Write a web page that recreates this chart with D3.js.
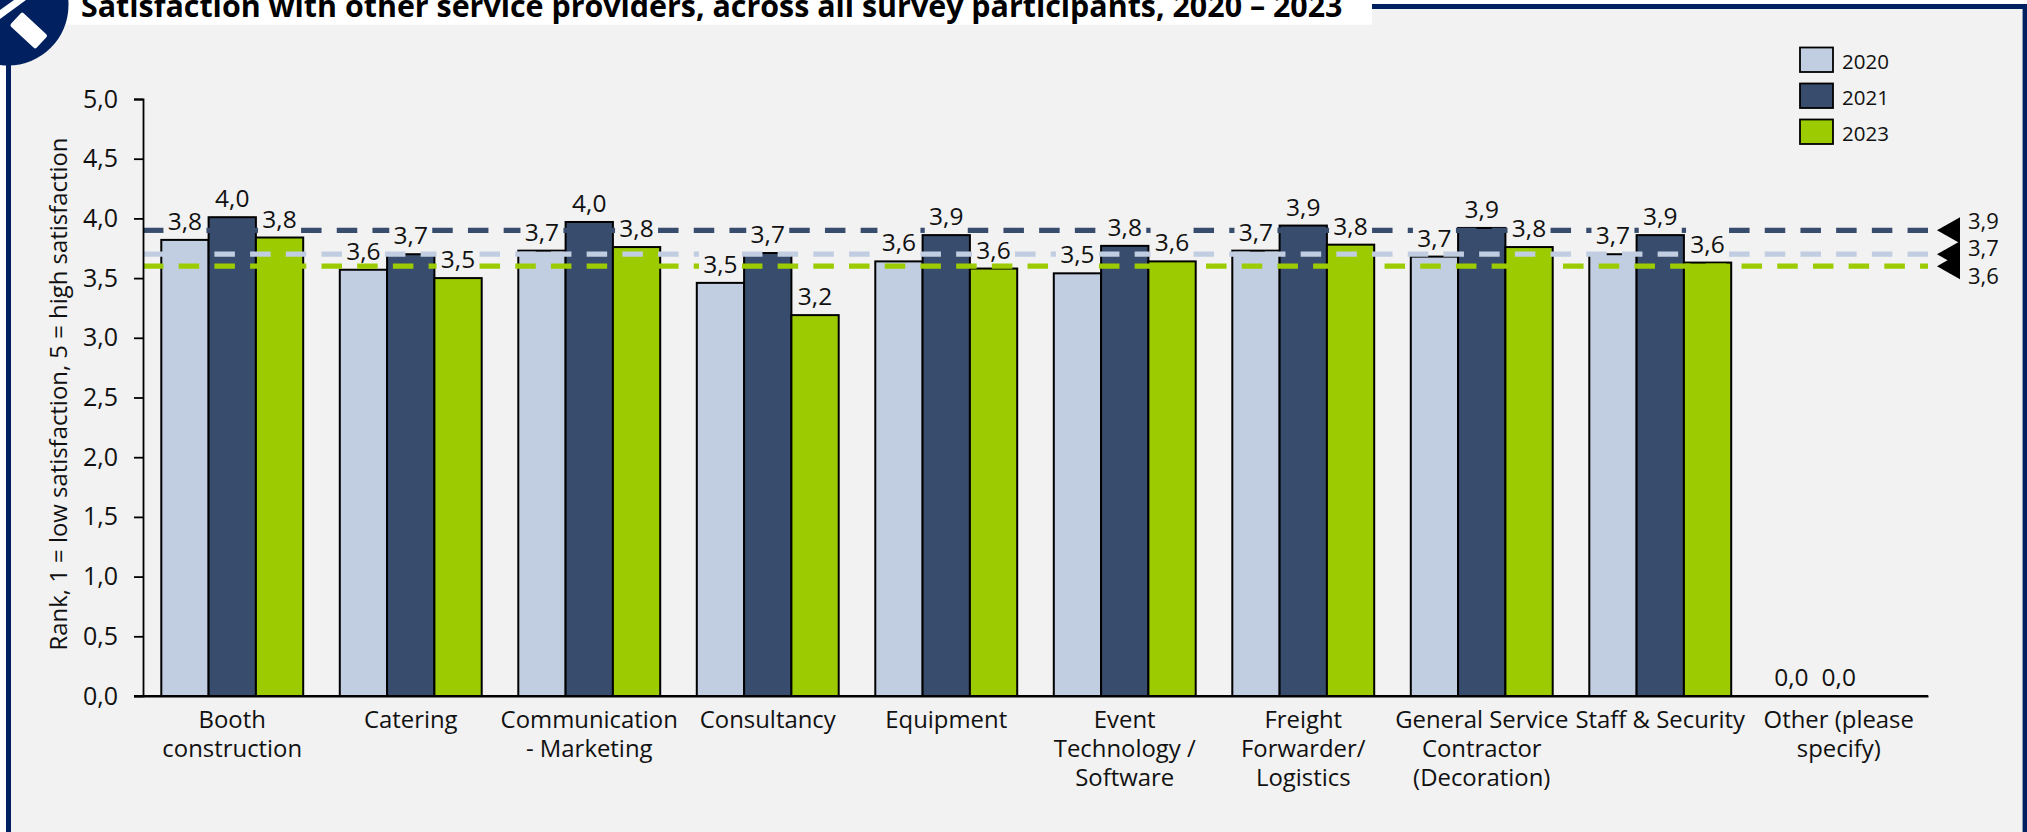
<!DOCTYPE html>
<html><head><meta charset="utf-8">
<script src="https://cdn.jsdelivr.net/npm/d3@7/dist/d3.min.js"></script>
<style>
html,body{margin:0;padding:0;background:#fff;overflow:hidden}
svg{display:block}
text{font-family:"Open Sans",sans-serif;fill:#111}
</style></head><body>
<svg id="c" width="2027" height="832"></svg>
<script>
const titleText = "Satisfaction with other service providers, across all survey participants, 2020 – 2023";
const yAxisTitle = "Rank, 1 = low satisfaction, 5 = high satisfaction";
const categories = ["Booth construction","Catering","Communication - Marketing","Consultancy","Equipment","Event Technology / Software","Freight Forwarder/ Logistics","General Service Contractor (Decoration)","Staff & Security","Other (please specify)"];
const categoryLines = [["Booth","construction"],["Catering"],["Communication","- Marketing"],["Consultancy"],["Equipment"],["Event","Technology /","Software"],["Freight","Forwarder/","Logistics"],["General Service","Contractor","(Decoration)"],["Staff & Security"],["Other (please","specify)"]];
const seriesNames = ["2020","2021","2023"];
const seriesColors = ["#c1cde0","#384d6e","#9bcb00"];
const values2020 = [3.82,3.57,3.73,3.46,3.64,3.54,3.73,3.68,3.70,0];
const values2021 = [4.01,3.70,3.97,3.71,3.86,3.77,3.94,3.92,3.86,0];
const values2023 = [3.84,3.50,3.76,3.19,3.58,3.64,3.78,3.76,3.63,null];
const averages = [3.7,3.9,3.6];
const averageLabelDy = [-6,-9.5,10];
const yTicks = [0,0.5,1,1.5,2,2.5,3,3.5,4,4.5,5];

const seriesValues = [values2020,values2021,values2023];
const fmt = v => v.toFixed(1).replace(".",",");
const svg = d3.select("#c");
const navy = "#00205f", bg = "#f2f2f2";
const plot = {l:143,r:1928,t:99,b:696};

// frame
svg.append("rect").attr("x",0).attr("y",0).attr("width",2027).attr("height",832).attr("fill","#fff");
svg.append("rect").attr("x",11).attr("y",9).attr("width",2012).attr("height",823).attr("fill",bg);
svg.append("rect").attr("x",6).attr("y",4).attr("width",5).attr("height",828).attr("fill",navy);
svg.append("rect").attr("x",6).attr("y",4).attr("width",2021).attr("height",5).attr("fill",navy);
svg.append("rect").attr("x",2022.6).attr("y",4).attr("width",4.4).attr("height",828).attr("fill",navy);
svg.append("rect").attr("x",0).attr("y",0).attr("width",1372).attr("height",24.7).attr("fill","#fff");
svg.append("circle").attr("cx",8).attr("cy",5).attr("r",60.5).attr("fill",navy);
svg.append("path").attr("d","M0,10L14,0L26,0L0,19Z").attr("fill","#fff");
svg.append("rect").attr("x",-17.5).attr("y",-9.2).attr("width",35).attr("height",18.4).attr("rx",2)
  .attr("transform","translate(28.7,30.5) rotate(43)").attr("fill","#fff");
svg.append("text").attr("x",81).attr("y",16.5).attr("font-size",30.4).attr("font-weight",700).style("fill","#000").text(titleText);

// scales
const x = d3.scaleBand().domain(categories).range([plot.l,plot.r]).paddingInner(0.205).paddingOuter(0.1025);
const x1 = d3.scaleBand().domain(seriesNames).range([0,x.bandwidth()]);
const y = d3.scaleLinear().domain([0,5]).range([plot.b,plot.t]);

// bars
seriesNames.forEach((s,si)=>{
  svg.append("g").selectAll("rect").data(categories.map((c,i)=>({c,v:seriesValues[si][i]})).filter(d=>d.v>0))
    .join("rect")
    .attr("x",d=>x(d.c)+x1(s)).attr("width",x1.bandwidth())
    .attr("y",d=>y(d.v)).attr("height",d=>y(0)-y(d.v))
    .attr("fill",seriesColors[si]).attr("stroke","#000").attr("stroke-width",2);
});

// label boxes: the reference clips the dashed lines around them and the dash restarts after each box
const labelW = 43, labelH = 28, labelGap = 4.5;
const labels = [];
seriesNames.forEach((s,si)=>categories.forEach((c,i)=>{
  const v = seriesValues[si][i];
  if(v===null) return;
  const cx = x(c)+x1(s)+x1.bandwidth()/2;
  labels.push({cx,v,bottom:y(v)-labelGap});
}));

// average lines
const lineGen = d3.line().x(d=>d[0]).y(d=>d[1]);
averages.forEach((a,si)=>{
  const ly = y(a);
  const masks = labels.filter(l=>ly<=l.bottom && ly>=l.bottom-labelH)
    .map(l=>[l.cx-labelW/2,l.cx+labelW/2]).sort((p,q)=>p[0]-q[0]);
  let start = plot.l; const segs = [];
  masks.forEach(m=>{ if(m[0]>start) segs.push([start,m[0]]); start=Math.max(start,m[1]); });
  if(start<plot.r) segs.push([start,plot.r]);
  svg.append("g").selectAll("path").data(segs).join("path")
    .attr("d",d=>lineGen([[d[0],ly],[d[1],ly]]))
    .attr("fill","none").attr("stroke",seriesColors[si]).attr("stroke-width",5.2).attr("stroke-dasharray","20.5 15.2");
});

// data labels
svg.append("g").selectAll("text").data(labels).join("text")
  .attr("x",d=>d.cx).attr("y",d=>d.bottom-5.5).attr("text-anchor","middle").attr("font-size",24.5).text(d=>fmt(d.v));

// average markers
averages.forEach((a,si)=>{
  const ly = y(a);
  svg.append("path").attr("d",lineGen([[1937,ly],[1960,ly-13],[1960,ly+13]])+"Z").attr("fill","#000");
  svg.append("text").attr("x",1968).attr("y",ly+averageLabelDy[si]+8).attr("font-size",22).text(fmt(a));
});

// axes
const gy = svg.append("g").attr("transform",`translate(${plot.l},0)`).call(d3.axisLeft(y).tickValues(yTicks).tickFormat(fmt).tickSize(9).tickPadding(16));
gy.selectAll("line,path").attr("stroke","#000").attr("stroke-width",1.8);
gy.selectAll("text").attr("font-size",25).attr("font-family",null).style("font-family",'"Open Sans"');
const gx = svg.append("g").attr("transform",`translate(0,${plot.b})`).call(d3.axisBottom(x).tickSize(0).tickFormat(""));
gx.selectAll("path").attr("stroke","#000").attr("stroke-width",1.8);
svg.append("line").attr("x1",134).attr("x2",plot.r).attr("y1",plot.b).attr("y2",plot.b).attr("stroke","#000").attr("stroke-width",1.8);
const cat = svg.append("g").selectAll("text").data(categories).join("text").attr("text-anchor","middle").attr("font-size",23.9);
cat.each(function(c,i){
  d3.select(this).selectAll("tspan").data(categoryLines[i]).join("tspan")
    .attr("x",x(c)+x.bandwidth()/2).attr("y",(d,j)=>728+j*29).text(d=>d);
});

// y title
svg.append("text").attr("transform","translate(67,394) rotate(-90)").attr("text-anchor","middle").attr("font-size",23.9).text(yAxisTitle);

// legend
const legY = d3.scaleBand().domain(seriesNames).range([42,150]);
seriesNames.forEach((s,si)=>{
  svg.append("rect").attr("x",1800).attr("y",legY(s)+5.5).attr("width",33).attr("height",24.5)
    .attr("fill",seriesColors[si]).attr("stroke","#000").attr("stroke-width",1.8);
  svg.append("text").attr("x",1842).attr("y",legY(s)+27).attr("font-size",20.5).text(s);
});
</script></body></html>
